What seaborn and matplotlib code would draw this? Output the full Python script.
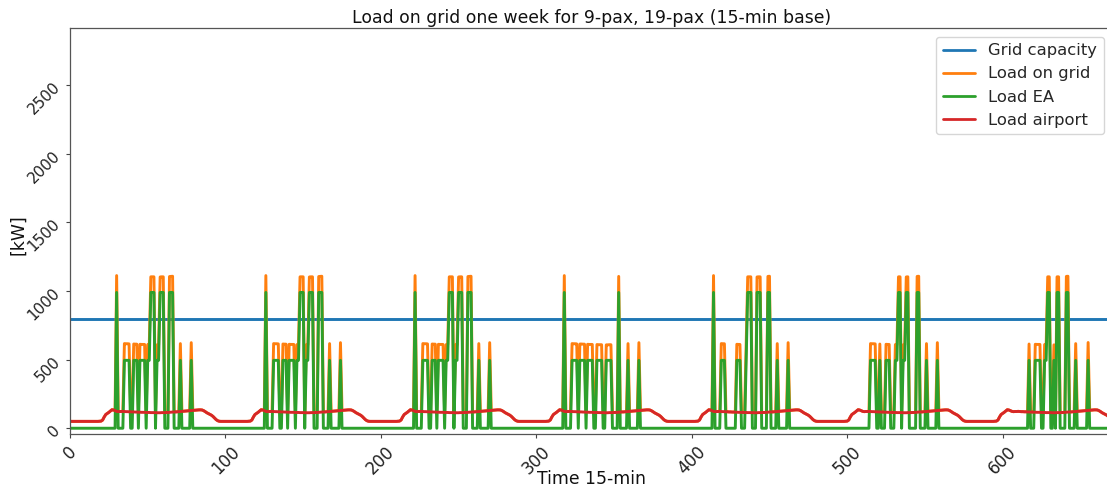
import matplotlib
matplotlib.use("Agg")
import matplotlib.pyplot as plt
import numpy as np
import pandas as pd
import seaborn as sns

# ---------------- data ----------------
steps_per_day = 96
n_days = 7
grid_capacity_kw = 795

series_names = ["Grid capacity", "Load on grid", "Load EA", "Load airport"]
series_colors = ["#1f77b4", "#ff7f0e", "#2ca02c", "#d62728"]

# airport load over one day (15-min slots)
airport_day_kw = [
    51, 50, 50, 50, 50, 50, 50, 50, 50, 50, 50, 50, 50, 50, 50, 50, 50, 50, 50, 51, 52,
    60, 82, 100, 108, 116, 126, 135,
    133, 128, 123, 121, 122, 122, 123, 122, 121, 121, 120, 120, 119,
    119, 118, 118, 117, 117, 116, 116, 116, 115, 115, 115, 114, 114, 114, 114, 113, 113, 113, 114, 114,
    114, 115, 115, 116, 117, 118, 119, 119, 120, 121, 122, 123, 124, 125, 126,
    127, 128, 129, 130, 131, 132, 133, 134, 134, 133,
    128, 121, 113, 107, 101, 95, 86, 75, 63, 55,
]

# electric-aircraft charging blocks per day: (first slot, last slot, kW)
ea_day_a = [(30, 30, 990), (35, 38, 495), (41, 43, 495), (45, 48, 495), (50, 51, 495),
            (52, 54, 990), (56, 57, 495), (58, 60, 990), (64, 66, 990), (71, 71, 495),
            (78, 78, 495)]
ea_day_d = [(30, 30, 990), (35, 38, 495), (40, 43, 495), (45, 48, 495), (51, 54, 495),
            (57, 60, 495), (65, 65, 990), (71, 71, 495), (78, 78, 495)]
ea_day_e = [(30, 30, 990), (35, 37, 495), (45, 47, 495), (51, 51, 495), (52, 54, 990),
            (58, 60, 990), (65, 66, 990), (71, 71, 495), (78, 78, 495)]
ea_day_f = [(35, 38, 495), (41, 41, 495), (45, 47, 495), (51, 52, 495), (53, 54, 990),
            (56, 57, 495), (58, 59, 990), (65, 66, 990), (71, 71, 495), (78, 78, 495)]
ea_day_g = [(41, 41, 495), (45, 48, 495), (51, 52, 495), (53, 54, 990), (57, 57, 495),
            (59, 60, 990), (65, 66, 990), (71, 71, 495), (79, 79, 495)]
ea_week = [ea_day_a, ea_day_a, ea_day_a, ea_day_d, ea_day_e, ea_day_f, ea_day_g]

x_ticks = [0, 100, 200, 300, 400, 500, 600]
y_ticks = [0, 500, 1000, 1500, 2000, 2500]

# ---------------- build series ----------------
n = steps_per_day * n_days
t = np.arange(n)
airport = np.tile(np.array(airport_day_kw, dtype=float), n_days)
ea = np.zeros(n)
for day, blocks in enumerate(ea_week):
    for a, b, kw in blocks:
        ea[day * steps_per_day + a: day * steps_per_day + b + 1] = kw
grid = np.full(n, float(grid_capacity_kw))
on_grid = ea + airport

df = pd.concat([
    pd.DataFrame({"t": t, "kW": grid, "series": series_names[0]}),
    pd.DataFrame({"t": t, "kW": on_grid, "series": series_names[1]}),
    pd.DataFrame({"t": t, "kW": ea, "series": series_names[2]}),
    pd.DataFrame({"t": t, "kW": airport, "series": series_names[3]}),
], ignore_index=True)

# ---------------- plot ----------------
sns.set_style("white")
plt.rcParams["font.family"] = ["DejaVu Sans"]

W, H = 1107, 493
fig = plt.figure(figsize=(W / 100, H / 100), dpi=100)
left, right, top, bottom = 70, 1113, 28, 434
aw, ah = right - left, bottom - top
ax = fig.add_axes([left / W, (H - bottom) / H, aw / W, ah / H])

sns.lineplot(data=df, x="t", y="kW", hue="series", hue_order=series_names,
             palette=series_colors, linewidth=2.1, ax=ax, legend=False,
             estimator=None, sort=False)

ax.set_xlim(0, n - 1)
ax.set_ylim(-42, 2918)
ax.set_xticks(x_ticks)
ax.set_yticks(y_ticks)
ax.tick_params(axis="both", length=3, width=0.8, colors="#444444",
               labelcolor="#222222", left=True, bottom=True)
ax.tick_params(axis="x", labelsize=12)
ax.tick_params(axis="y", labelsize=11, pad=2)
for lab in ax.get_xticklabels():
    lab.set_rotation(45)
for lab in ax.get_yticklabels():
    lab.set_rotation(45)
for sp in ax.spines.values():
    sp.set_color("#555555")
    sp.set_linewidth(0.9)

ax.set_title("Load on grid one week for 9-pax, 19-pax (15-min base)", fontsize=12.4,
             color="#111111", pad=3.5)
ax.set_xlabel("Time 15-min", fontsize=12.4, color="#111111")
ax.set_ylabel("[kW]", fontsize=12.4, color="#111111")
ax.xaxis.set_label_coords((591.5 - left) / aw, (bottom - 470) / ah)
ax.yaxis.set_label_coords((27 - left) / aw, (bottom - 235) / ah)

handles = [plt.Line2D([], [], color=c, lw=2.0) for c in series_colors]
ax.legend(handles, series_names, loc="upper right", fontsize=11.8, frameon=True,
          labelspacing=0.5, borderaxespad=0,
          bbox_to_anchor=((1104 - left) / aw, (bottom - 36.7) / ah))

fig.savefig("out.png", dpi=100)
